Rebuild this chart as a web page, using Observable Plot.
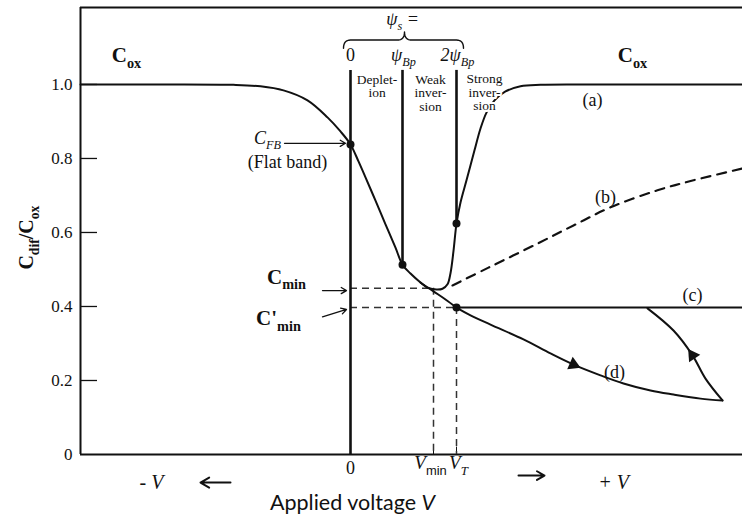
<!DOCTYPE html>
<html><head><meta charset="utf-8">
<script src="https://cdn.jsdelivr.net/npm/d3@7"></script>
<script src="https://cdn.jsdelivr.net/npm/@observablehq/plot@0.6"></script>
<style>body{margin:0;background:#fff}</style>
</head><body><div id="chart"></div>
<script>
// ---- data (voltage in arbitrary units, capacitance as C/Cox) ----
const xDomain = [-2.7, 3.92];
const yDomain = [0, 1.208];
const yTicks = [0, 0.2, 0.4, 0.6, 0.8, 1.0];

// common curve: accumulation -> depletion -> down to V_T
const mainV = [-2.70,-2.00,-1.17,-0.90,-0.67,-0.43,-0.23,-0.10,0.00,0.08,0.15,0.25,0.35,0.45,0.52,0.60,0.70,0.83,0.95,1.06];
const mainC = [1.000,1.000,0.999,0.995,0.984,0.957,0.911,0.873,0.838,0.792,0.749,0.686,0.622,0.559,0.513,0.489,0.465,0.441,0.419,0.397];
// (a) low frequency branch
const aV = [0.70,0.78,0.86,0.92,0.97,1.00,1.03,1.06,1.10,1.16,1.24,1.30,1.36,1.44,1.55,1.70,1.90,2.30,3.92];
const aC = [0.465,0.450,0.446,0.448,0.460,0.490,0.550,0.624,0.681,0.741,0.822,0.881,0.924,0.957,0.981,0.995,0.999,1.000,1.000];
// (b) intermediate frequency (dashed)
const bV = [1.02,1.38,1.87,2.23,2.60,3.07,3.43,3.92];
const bC = [0.457,0.505,0.570,0.619,0.668,0.714,0.741,0.773];
// (c) high frequency
const cV = [1.06,3.92];
const cC = [0.397,0.397];
// (d) deep depletion and its return
const dV = [1.06,1.20,1.40,1.73,2.00,2.23,2.50,2.73,3.00,3.23,3.50,3.72];
const dC = [0.397,0.376,0.351,0.311,0.273,0.243,0.214,0.192,0.173,0.162,0.151,0.146];
const retV = [3.72,3.55,3.42,3.23,2.97];
const retC = [0.146,0.205,0.268,0.335,0.395];

const Vmin = 0.83, VT = 1.06, psiB = 0.52;
const Cmin = 0.449, CminP = 0.397, CFB = 0.838, CpsiB = 0.513, C2psiB = 0.624;
const regionTop = 1.038;

const pts = (xs, ys) => xs.map((x, i) => ({x, y: ys[i]}));

// brace over the psi_s labels
const braceEnds = [-0.07, 0.54, 1.13], braceY = 1.12, braceH = 0.022, braceW = 0.07;
function brace([x1, xm, x2], y, h, w) {
  const q = (p0, c, p1, n = 8) => d3.range(n + 1).map(i => {
    const t = i / n;
    return {x: (1-t)*(1-t)*p0[0] + 2*(1-t)*t*c[0] + t*t*p1[0],
            y: (1-t)*(1-t)*p0[1] + 2*(1-t)*t*c[1] + t*t*p1[1]};
  });
  return [
    ...q([x1, y - h], [x1, y], [x1 + w, y]),
    ...q([xm - w, y], [xm, y], [xm, y + h]),
    ...q([xm, y + h], [xm, y], [xm + w, y]),
    ...q([x2 - w, y], [x2, y], [x2, y - h])
  ];
}

// text labels
const boldLabels = [
  {t: "C_{ox}", x: -2.24, y: 1.078},
  {t: "C_{ox}", x: 2.82, y: 1.078},
  {t: "C_{min}", x: -0.64, y: 0.480},
  {t: "C'_{min}", x: -0.72, y: 0.368}
];
const psiLabels = [
  {t: "ψ_{s} =", x: 0.52, y: 1.176},
  {t: "ψ_{Bp}", x: 0.53, y: 1.078},
  {t: "2ψ_{Bp}", x: 1.07, y: 1.078}
];
const psiZero = [{t: "0", x: 0.0, y: 1.078}];
const regionLabels = [
  {t: "Deplet-\nion", x: 0.265, y: 0.995},
  {t: "Weak\ninver-\nsion", x: 0.80, y: 0.977}
];
const strongLabel = [{t: "Strong\ninver-\nsion", x: 1.34, y: 0.978}];
const curveLabels = [
  {t: "(a)", x: 2.42, y: 0.957},
  {t: "(b)", x: 2.55, y: 0.695},
  {t: "(c)", x: 3.42, y: 0.430},
  {t: "(d)", x: 2.64, y: 0.222}
];
const fbName = [{t: "C_{FB}", x: -0.83, y: 0.856}];
const fbNote = [{t: "(Flat band)", x: -0.63, y: 0.790}];
const xZero = [{t: "0", x: 0.0, y: -0.038}];
const xTickLabels = [
  {t: "V_[min]", x: 0.80, y: -0.024},
  {t: "V_{T}", x: 1.08, y: -0.024}
];
const dirLabels = [
  {t: "- V", x: -1.99, y: -0.076},
  {t: "+ V", x: 2.63, y: -0.076}
];
const xTitle = [{t: "Applied voltage *V*", x: 0.02, y: -0.132}];
const yTitle = [{t: "C_{dif}/C_{ox}", x: -3.24, y: 0.586}];

const labelArrows = [
  {x1: -0.66, y1: 0.841, x2: -0.05, y2: 0.841},
  {x1: -0.28, y1: 0.443, x2: -0.04, y2: 0.443},
  {x1: -0.28, y1: 0.372, x2: -0.04, y2: 0.392}
];
const dirArrows = [
  {x1: -1.20, y1: -0.076, x2: -1.50, y2: -0.076},
  {x1: 1.68, y1: -0.057, x2: 1.94, y2: -0.057}
];
const flowHeads = [
  {x: 2.23, y: 0.243, a: 114},
  {x: 3.42, y: 0.268, a: -34}
];
const keyDots = [
  {x: 0, y: CFB}, {x: psiB, y: CpsiB}, {x: VT, y: C2psiB}, {x: VT, y: CminP}
];
const regionLines = [
  {x: 0, y2: 0}, {x: psiB, y2: CpsiB}, {x: VT, y2: C2psiB}
];

const serif = "'Liberation Serif', 'Times New Roman', serif";
const ink = "#111";

const chart = Plot.plot({
  width: 742, height: 519,
  marginLeft: 80, marginRight: 0, marginTop: 7, marginBottom: 65,
  x: {domain: xDomain, axis: null},
  y: {domain: yDomain, axis: null},
  style: {fontFamily: serif, background: "white", color: ink, overflow: "visible"},
  marks: [
    // frame
    Plot.ruleX([xDomain[0]], {y1: yDomain[0], y2: yDomain[1], strokeWidth: 2, stroke: ink}),
    Plot.ruleY([yDomain[0], yDomain[1]], {x1: xDomain[0], x2: xDomain[1], strokeWidth: 2, stroke: ink}),
    // inward y ticks
    Plot.ruleY(yTicks.filter(d => d > 0), {x1: xDomain[0], x2: xDomain[0] + 0.17, strokeWidth: 1.3, stroke: ink}),
    Plot.axisY(yTicks, {anchor: "left", tickSize: 0, tickPadding: 8, fontSize: 17, fontFamily: serif, label: null,
      tickFormat: d => d === 0 ? "0" : d.toFixed(1)}),
    // small x ticks at Vmin, VT
    Plot.ruleX([Vmin, VT], {y1: 0, y2: 0.02, strokeWidth: 1, stroke: ink}),
    // dashed guides
    Plot.ruleY([{y: Cmin, x2: Vmin}, {y: CminP, x2: VT}], {x1: 0, x2: "x2", y: "y", stroke: "#333", strokeWidth: 1.5, strokeDasharray: "7,5"}),
    Plot.ruleX([{x: Vmin, y1: Cmin}, {x: VT, y1: CminP}], {x: "x", y1: "y1", y2: 0, stroke: "#333", strokeWidth: 1.5, strokeDasharray: "7,5"}),
    // region boundary lines
    Plot.ruleX(regionLines, {x: "x", y1: regionTop, y2: "y2", strokeWidth: 2.6, stroke: ink}),
    // curves
    Plot.line(pts(mainV, mainC), {x: "x", y: "y", curve: "catmull-rom", strokeWidth: 2, stroke: ink}),
    Plot.line(pts(aV, aC), {x: "x", y: "y", curve: "catmull-rom", strokeWidth: 2, stroke: ink}),
    Plot.line(pts(bV, bC), {x: "x", y: "y", curve: "catmull-rom", strokeWidth: 2.2, stroke: ink, strokeDasharray: "9,7"}),
    Plot.line(pts(cV, cC), {x: "x", y: "y", strokeWidth: 2, stroke: ink}),
    Plot.line(pts(dV, dC), {x: "x", y: "y", curve: "catmull-rom", strokeWidth: 2, stroke: ink}),
    Plot.line(pts(retV, retC), {x: "x", y: "y", curve: "catmull-rom", strokeWidth: 2, stroke: ink}),
    Plot.dot(flowHeads, {x: "x", y: "y", rotate: "a", symbol: "triangle", r: 5, fill: ink, stroke: null}),
    Plot.dot(keyDots, {x: "x", y: "y", r: 4, fill: ink, stroke: null}),
    // brace
    Plot.line(brace(braceEnds, braceY, braceH, braceW), {x: "x", y: "y", strokeWidth: 1.4, stroke: ink}),
    // label arrows
    Plot.arrow(labelArrows, {x1: "x1", y1: "y1", x2: "x2", y2: "y2", headLength: 7, strokeWidth: 1.3, stroke: ink}),
    Plot.arrow(dirArrows, {x1: "x1", y1: "y1", x2: "x2", y2: "y2", headLength: 9, strokeWidth: 2, stroke: ink}),
    // texts
    Plot.text(boldLabels, {x: "x", y: "y", text: "t", fontSize: 21, fontWeight: "bold", fill: ink}),
    Plot.text(psiLabels, {x: "x", y: "y", text: "t", fontSize: 18, fontStyle: "italic", fill: ink}),
    Plot.text(psiZero, {x: "x", y: "y", text: "t", fontSize: 18, fill: ink}),
    Plot.text(regionLabels, {x: "x", y: "y", text: "t", fontSize: 13.5, lineHeight: 1.0, fill: ink}),
    Plot.text(strongLabel, {x: "x", y: "y", text: "t", fontSize: 13.5, lineHeight: 1.0, fill: ink, stroke: "white", strokeWidth: 4}),
    Plot.text(curveLabels, {x: "x", y: "y", text: "t", fontSize: 18, fill: ink}),
    Plot.text(fbName, {x: "x", y: "y", text: "t", fontSize: 18, fontStyle: "italic", fill: ink}),
    Plot.text(fbNote, {x: "x", y: "y", text: "t", fontSize: 18, fill: ink}),
    Plot.text(xZero, {x: "x", y: "y", text: "t", fontSize: 18, fill: ink}),
    Plot.text(xTickLabels, {x: "x", y: "y", text: "t", fontSize: 19, fontStyle: "italic", fill: ink}),
    Plot.text(dirLabels, {x: "x", y: "y", text: "t", fontSize: 20, fontStyle: "italic", fill: ink}),
    Plot.text(xTitle, {x: "x", y: "y", text: "t", fontSize: 21.5, fontFamily: "Lato, 'Open Sans', sans-serif", fill: ink}),
    Plot.text(yTitle, {x: "x", y: "y", text: "t", fontSize: 20, fontWeight: "bold", rotate: -90, fill: ink})
  ]
});
document.getElementById("chart").append(chart);

// turn simple markup (_{sub}, _[upright sub], *italic*) into tspans
function richify(root) {
  root.querySelectorAll("text").forEach(el => {
    if (el.children.length) return;
    const s = el.textContent;
    if (!/_\{|_\[|\*/.test(s)) return;
    const base = parseFloat(getComputedStyle(el).fontSize) || 16;
    const parts = s.split(/(_\{[^}]*\}|_\[[^\]]*\]|\*[^*]*\*)/).filter(p => p.length);
    el.textContent = "";
    let shifted = false;
    for (const p of parts) {
      const ts = document.createElementNS("http://www.w3.org/2000/svg", "tspan");
      let txt = p, sub = false, upright = false, ital = false;
      if (p.startsWith("_{")) { sub = true; txt = p.slice(2, -1); }
      else if (p.startsWith("_[")) { sub = true; upright = true; txt = p.slice(2, -1); }
      else if (p.startsWith("*")) { ital = true; txt = p.slice(1, -1); }
      if (sub) {
        ts.setAttribute("font-size", (base * 0.68) + "px");
        if (!shifted) { ts.setAttribute("dy", (base * 0.28) + "px"); shifted = true; }
        if (upright) { ts.setAttribute("font-style", "normal"); ts.setAttribute("font-family", "'Liberation Sans', Arial, sans-serif"); }
      } else {
        if (shifted) { ts.setAttribute("dy", (-base * 0.28) + "px"); shifted = false; }
        if (ital) ts.setAttribute("font-style", "italic");
      }
      ts.textContent = txt;
      el.appendChild(ts);
    }
  });
}
richify(chart);
</script>
</body></html>
